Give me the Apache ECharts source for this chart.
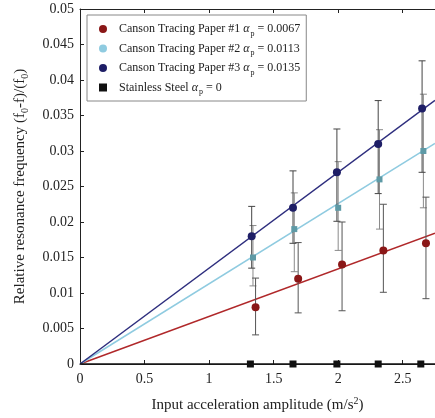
<!DOCTYPE html>
<html>
<head>
<meta charset="utf-8">
<script src="https://cdn.jsdelivr.net/npm/echarts@6/dist/echarts.min.js"></script>
<style>
  html, body { margin: 0; padding: 0; background: #fff; }
  #chart { width: 435px; height: 418px; }
</style>
</head>
<body>
<div id="chart"></div>
<script>
// measured accelerations (m/s^2) for each sample
var accelPaper1 = [1.36, 1.69, 2.03, 2.35, 2.68];
var accelPaper2 = [1.34, 1.66, 2.0, 2.32, 2.66];
var accelPaper3 = [1.33, 1.65, 1.99, 2.31, 2.65];
var accelSteel = [1.32, 1.65, 1.99, 2.31, 2.64];

// relative resonance frequency shift and error bar limits
var paper1 = [0.008, 0.012, 0.014, 0.016, 0.017];
var paper1Low = [0.0041, 0.0072, 0.0075, 0.0101, 0.0092];
var paper1High = [0.0121, 0.0171, 0.020, 0.0225, 0.0235];
var paper2 = [0.015, 0.019, 0.022, 0.026, 0.030];
var paper2Low = [0.011, 0.013, 0.016, 0.019, 0.022];
var paper2High = [0.0195, 0.0241, 0.0285, 0.033, 0.038];
var paper3 = [0.018, 0.022, 0.027, 0.031, 0.036];
var paper3Low = [0.0135, 0.017, 0.0201, 0.024, 0.027];
var paper3High = [0.0222, 0.0272, 0.0331, 0.0371, 0.0427];
var steel = [0, 0, 0, 0, 0];

// fitted slopes
var alphas = [0.0067, 0.0113, 0.0135, 0];
var seriesNames = [
  "Canson Tracing Paper #1",
  "Canson Tracing Paper #2",
  "Canson Tracing Paper #3",
  "Stainless Steel",
];
var alphaLabels = ["0.0067", "0.0113", "0.0135", "0"];

var xTicks = [0, 0.5, 1, 1.5, 2, 2.5];
var xMax = 2.75;

var serif = "Liberation Serif";

function zip(xs, ys) {
  return xs.map(function (x, i) {
    return [x, ys[i]];
  });
}
function zipErr(xs, lo, hi) {
  return xs.map(function (x, i) {
    return [x, lo[i], hi[i]];
  });
}
function fitLine(a) {
  return [
    [0, 0],
    [xMax, a * xMax],
  ];
}

function errorBar(color) {
  return function (params, api) {
    var x = api.value(0);
    var p1 = api.coord([x, api.value(1)]);
    var p2 = api.coord([x, api.value(2)]);
    var w = 3.5;
    var style = { stroke: color, lineWidth: 1 };
    return {
      type: "group",
      children: [
        { type: "line", shape: { x1: p1[0], y1: p1[1], x2: p2[0], y2: p2[1] }, style: style },
        { type: "line", shape: { x1: p1[0] - w, y1: p1[1], x2: p1[0] + w, y2: p1[1] }, style: style },
        { type: "line", shape: { x1: p2[0] - w, y1: p2[1], x2: p2[0] + w, y2: p2[1] }, style: style },
      ],
    };
  };
}

var lineColors = ["#b0282a", "#8fcbe0", "#2e2e7e", "#111"];
var markColors = ["#8a1717", "#5e9aa6", "#1e1e66", "#111"];

var chart = echarts.init(document.getElementById("chart"));
var option = {
  animation: false,
  grid: { left: 80, right: 0, top: 9, bottom: 53 },
  legend: {
    orient: "vertical",
    left: 87,
    top: 15,
    padding: [8, 6, 5, 12],
    itemGap: 5,
    itemWidth: 8,
    itemHeight: 8,
    borderColor: "#888",
    borderWidth: 1,
    backgroundColor: "#fff",
    data: [
      { name: seriesNames[0], icon: "circle", itemStyle: { color: "#8a1717", opacity: 1 } },
      { name: seriesNames[1], icon: "circle", itemStyle: { color: "#8fcbe0", opacity: 1 } },
      { name: seriesNames[2], icon: "circle", itemStyle: { color: "#1e1e66", opacity: 1 } },
      { name: seriesNames[3], icon: "rect", itemStyle: { color: "#111", opacity: 1 } },
    ],
    formatter: function (name) {
      var i = seriesNames.indexOf(name);
      return name + " {a|α}{s|p}{t| = " + alphaLabels[i] + "}";
    },
    textStyle: {
      fontFamily: serif,
      fontSize: 12,
      color: "#222",
      padding: [0, 0, 0, 7],
      rich: {
        a: { fontFamily: serif, fontSize: 12, fontStyle: "italic", color: "#222" },
        s: { fontFamily: serif, fontSize: 8, color: "#222", padding: [9, 0, 0, 1] },
        t: { fontFamily: serif, fontSize: 12, color: "#222" },
      },
    },
  },
  xAxis: [
    {
      type: "value",
      min: 0,
      max: xMax,
      interval: 0.5,
      name: "Input acceleration amplitude (m/s{s|2})",
      nameLocation: "middle",
      nameGap: 32,
      nameTextStyle: {
        fontFamily: serif,
        fontSize: 15,
        color: "#222",
        rich: {
          s: { fontFamily: serif, fontSize: 10, color: "#222", padding: [0, 0, 9, 0] },
        },
      },
      axisLine: { lineStyle: { color: "#222", width: 1 } },
      axisTick: { inside: true, length: 4, lineStyle: { color: "#222" } },
      axisLabel: {
        fontFamily: serif,
        fontSize: 14,
        color: "#222",
        margin: 8,
        showMaxLabel: false,
        formatter: function (v) {
          return xTicks.indexOf(v) >= 0 ? String(v) : "";
        },
      },
      splitLine: { show: false },
    },
    {
      type: "value",
      position: "top",
      min: 0,
      max: xMax,
      interval: 0.5,
      axisLine: { show: true, lineStyle: { color: "#222", width: 1 } },
      axisTick: { show: true, inside: true, length: 4, lineStyle: { color: "#222" } },
      axisLabel: { show: false },
      splitLine: { show: false },
    },
  ],
  yAxis: {
    type: "value",
    min: 0,
    max: 0.05,
    interval: 0.005,
    name: "Relative resonance frequency (f{s|0}-f)/(f{s|0})",
    nameLocation: "middle",
    nameGap: 50,
    nameTextStyle: {
      fontFamily: serif,
      fontSize: 15,
      color: "#222",
      rich: {
        s: { fontFamily: serif, fontSize: 10, color: "#222", padding: [9, 0, 0, 0] },
      },
    },
    axisLine: { show: true, lineStyle: { color: "#222", width: 1 } },
    axisTick: { show: true, inside: true, length: 4, lineStyle: { color: "#222" } },
    axisLabel: {
      fontFamily: serif,
      fontSize: 14,
      color: "#222",
      margin: 6,
      formatter: function (v) {
        return String(Math.round(v * 1000) / 1000);
      },
    },
    splitLine: { show: false },
  },
  series: [
    // fitted lines
    {
      name: "fit1", type: "line", data: fitLine(alphas[0]), symbol: "none", silent: true,
      lineStyle: { color: lineColors[0], width: 1.5 }, z: 2,
    },
    {
      name: "fit2", type: "line", data: fitLine(alphas[1]), symbol: "none", silent: true,
      lineStyle: { color: lineColors[1], width: 1.5 }, z: 2,
    },
    {
      name: "fit3", type: "line", data: fitLine(alphas[2]), symbol: "none", silent: true,
      lineStyle: { color: lineColors[2], width: 1.5 }, z: 2,
    },
    {
      name: "fit4", type: "line", data: fitLine(alphas[3]), symbol: "none", silent: true,
      lineStyle: { color: lineColors[3], width: 1.5 }, z: 2,
    },
    // error bars
    {
      name: "err2", type: "custom", renderItem: errorBar("#8a8a8a"),
      data: zipErr(accelPaper2, paper2Low, paper2High), encode: { x: 0, y: [1, 2] }, z: 3,
    },
    {
      name: "err3", type: "custom", renderItem: errorBar("#444"),
      data: zipErr(accelPaper3, paper3Low, paper3High), encode: { x: 0, y: [1, 2] }, z: 3,
    },
    {
      name: "err1", type: "custom", renderItem: errorBar("#555"),
      data: zipErr(accelPaper1, paper1Low, paper1High), encode: { x: 0, y: [1, 2] }, z: 3,
    },
    // measurements
    {
      name: seriesNames[0], type: "scatter", data: zip(accelPaper1, paper1),
      symbol: "circle", symbolSize: 8, itemStyle: { color: markColors[0], opacity: 1 }, z: 4,
    },
    {
      name: seriesNames[1], type: "scatter", data: zip(accelPaper2, paper2),
      symbol: "rect", symbolSize: 6, itemStyle: { color: markColors[1], opacity: 1 }, z: 4,
    },
    {
      name: seriesNames[2], type: "scatter", data: zip(accelPaper3, paper3),
      symbol: "circle", symbolSize: 8, itemStyle: { color: markColors[2], opacity: 1 }, z: 4,
    },
    {
      name: seriesNames[3], type: "scatter", data: zip(accelSteel, steel),
      symbol: "rect", symbolSize: 7, itemStyle: { color: markColors[3], opacity: 1 }, z: 4,
    },
  ],
};
chart.setOption(option);

window.addEventListener("resize", function () {
  chart.resize();
});
</script>
</body>
</html>
